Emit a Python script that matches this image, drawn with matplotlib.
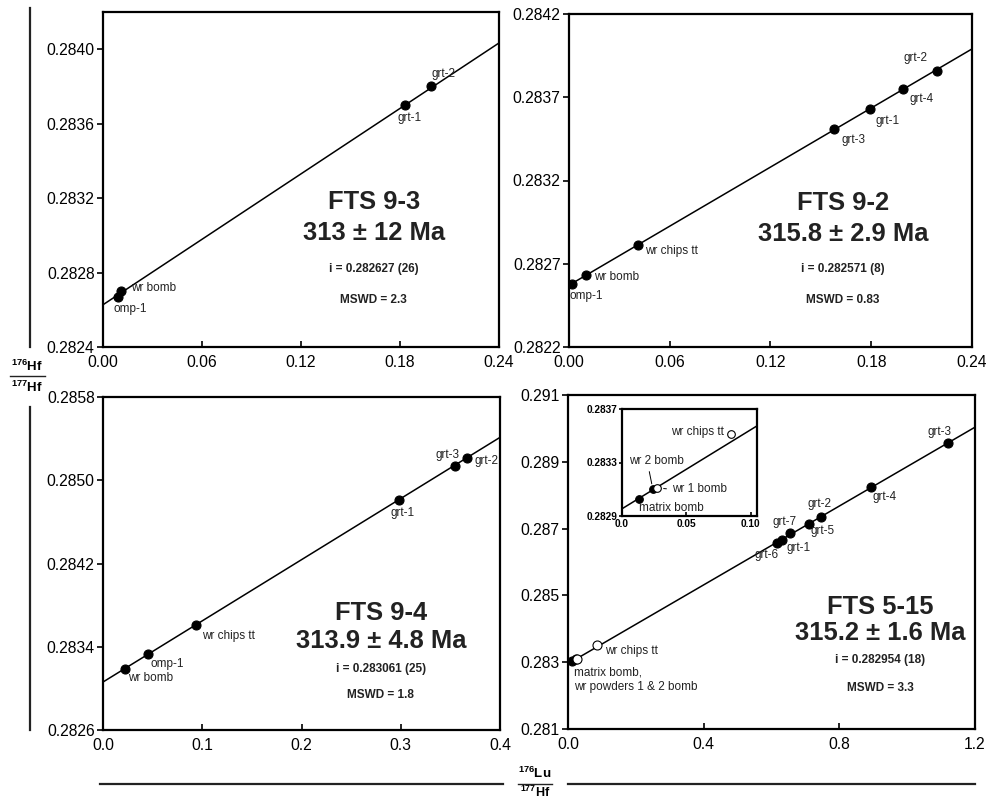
import numpy as np
import matplotlib
matplotlib.use("Agg")
import matplotlib.pyplot as plt
from matplotlib.lines import Line2D

plt.rcParams['font.family'] = ['Liberation Sans', 'DejaVu Sans']
plt.rcParams['mathtext.fontset'] = 'custom'
plt.rcParams['mathtext.rm'] = 'Liberation Sans'
plt.rcParams['mathtext.bf'] = 'Liberation Sans:bold'

LAMBDA = 1.867e-11  # 176Lu decay constant

# ---- data ----
# FTS 9-3
p1_names = ['omp-1', 'wr bomb', 'grt-1', 'grt-2']
p1_x = [0.009, 0.011, 0.183, 0.199]
p1_y = [0.28267, 0.28270, 0.28370, 0.28380]
p1_i, p1_age = 0.282627, 313

# FTS 9-2
p2_names = ['omp-1', 'wr bomb', 'wr chips tt', 'grt-3', 'grt-1', 'grt-4', 'grt-2']
p2_x = [0.002, 0.010, 0.041, 0.158, 0.179, 0.199, 0.219]
p2_y = [0.28258, 0.28263, 0.28281, 0.28351, 0.28363, 0.28375, 0.28386]
p2_i, p2_age = 0.282571, 315.8

# FTS 9-4
p3_names = ['wr bomb', 'omp-1', 'wr chips tt', 'grt-1', 'grt-3', 'grt-2']
p3_x = [0.022, 0.045, 0.094, 0.298, 0.355, 0.367]
p3_y = [0.28319, 0.28333, 0.28361, 0.28481, 0.28514, 0.28521]
p3_i, p3_age = 0.283061, 313.9

# FTS 5-15
p4_names = ['matrix bomb', 'wr 2 bomb', 'wr 1 bomb', 'wr chips tt',
            'grt-6', 'grt-1', 'grt-7', 'grt-5', 'grt-2', 'grt-4', 'grt-3']
p4_x = [0.013, 0.024, 0.027, 0.085, 0.615, 0.63, 0.655, 0.710, 0.746, 0.893, 1.120]
p4_y = [0.28303, 0.28310, 0.28311, 0.28351, 0.28658, 0.28667, 0.28687,
        0.28714, 0.28735, 0.28825, 0.28955]
p4_open = [False, False, True, True, False, False, False, False, False, False, False]
p4_i, p4_age = 0.282954, 315.2

W, H = 987, 801
fig = plt.figure(figsize=(W / 100, H / 100), dpi=100)
TXT = '#222222'
LFS = 8.5


def px_axes(l, r, t, b):
    return fig.add_axes([l / W, 1 - b / H, (r - l) / W, (b - t) / H])


def style(ax, xlim, ylim, xt, yt, xfmt, yfmt, fs=11.3):
    ax.set_xlim(xlim)
    ax.set_ylim(ylim)
    ax.set_xticks(xt)
    ax.set_yticks(yt)
    ax.set_xticklabels([xfmt.format(v) for v in xt], fontsize=fs)
    ax.set_yticklabels([yfmt.format(v) for v in yt], fontsize=fs)
    ax.tick_params(axis='x', direction='in', length=4, width=1.2, pad=6)
    ax.tick_params(axis='y', direction='out', length=4, width=1.2, pad=2)
    for s in ax.spines.values():
        s.set_linewidth(1.6)


def isochron(ax, i, age, xmax):
    xs = np.array([0, xmax])
    ax.plot(xs, i + np.expm1(LAMBDA * age * 1e6) * xs, color='black', lw=1.1, zorder=2)


def points(ax, xs, ys, opens=None, ms=6.5):
    for k, (x, y) in enumerate(zip(xs, ys)):
        op = opens[k] if opens else False
        ax.plot(x, y, 'o', ms=ms, mfc='white' if op else 'black', mec='black',
                mew=0.8, zorder=3)


def lab(ax, x, y, txt, dx, dy, ha='left', va='center', fs=LFS):
    ax.annotate(txt, (x, y), xytext=(dx, dy), textcoords='offset points',
                ha=ha, va=va, fontsize=fs, color=TXT)


def summary(ax, name, age, i, mswd, xc, ys):
    ax.text(xc, ys[0], name, transform=ax.transAxes, ha='center', va='center',
            fontsize=18.4, fontweight='bold', color=TXT)
    ax.text(xc, ys[1], age, transform=ax.transAxes, ha='center', va='center',
            fontsize=18.4, fontweight='bold', color=TXT)
    ax.text(xc, ys[2], i, transform=ax.transAxes, ha='center', va='center',
            fontsize=8.5, fontweight='bold', color=TXT)
    ax.text(xc, ys[3], mswd, transform=ax.transAxes, ha='center', va='center',
            fontsize=8.5, fontweight='bold', color=TXT)


# ---- panel 1 ----
ax1 = px_axes(103, 499, 12, 347)
style(ax1, (0, 0.24), (0.2824, 0.2842), [0, 0.06, 0.12, 0.18, 0.24],
      [0.2824, 0.2828, 0.2832, 0.2836, 0.2840], '{:.2f}', '{:.4f}')
isochron(ax1, p1_i, p1_age, 0.24)
points(ax1, p1_x, p1_y)
off1 = [(-3, -9, 'left'), (7, 2, 'left'), (3, -9, 'center'), (9, 9, 'center')]
for n, x, y, (dx, dy, ha) in zip(p1_names, p1_x, p1_y, off1):
    lab(ax1, x, y, n, dx, dy, ha)
summary(ax1, 'FTS 9-3', '313 ± 12 Ma', 'i = 0.282627 (26)', 'MSWD = 2.3',
        0.684, [0.433, 0.340, 0.233, 0.140])

# ---- panel 2 ----
ax2 = px_axes(569, 972, 14, 347)
style(ax2, (0, 0.24), (0.2822, 0.2842), [0, 0.06, 0.12, 0.18, 0.24],
      [0.2822, 0.2827, 0.2832, 0.2837, 0.2842], '{:.2f}', '{:.4f}')
isochron(ax2, p2_i, p2_age, 0.24)
points(ax2, p2_x, p2_y)
off2 = [(-2, -9, 'left'), (6, -1, 'left'), (5, -4, 'left'), (14, -8, 'center'),
        (13, -9, 'center'), (13, -7, 'center'), (-15, 9, 'center')]
for n, x, y, (dx, dy, ha) in zip(p2_names, p2_x, p2_y, off2):
    lab(ax2, x, y, n, dx, dy, ha)
summary(ax2, 'FTS 9-2', '315.8 ± 2.9 Ma', 'i = 0.282571 (8)', 'MSWD = 0.83',
        0.68, [0.433, 0.340, 0.233, 0.140])

# ---- panel 3 ----
ax3 = px_axes(103, 500, 397, 730)
style(ax3, (0, 0.4), (0.2826, 0.2858), [0, 0.1, 0.2, 0.3, 0.4],
      [0.2826, 0.2834, 0.2842, 0.2850, 0.2858], '{:.1f}', '{:.4f}')
isochron(ax3, p3_i, p3_age, 0.4)
points(ax3, p3_x, p3_y)
off3 = [(2, -7, 'left'), (2, -7, 'left'), (4, -8, 'left'), (3, -9, 'center'),
        (-6, 8, 'center'), (5, -2, 'left')]
for n, x, y, (dx, dy, ha) in zip(p3_names, p3_x, p3_y, off3):
    lab(ax3, x, y, n, dx, dy, ha)
summary(ax3, 'FTS 9-4', '313.9 ± 4.8 Ma', 'i = 0.283061 (25)', 'MSWD = 1.8',
        0.70, [0.350, 0.268, 0.183, 0.105])

# ---- panel 4 ----
ax4 = px_axes(568, 975, 395, 729)
style(ax4, (0, 1.2), (0.281, 0.291), [0, 0.4, 0.8, 1.2],
      [0.281, 0.283, 0.285, 0.287, 0.289, 0.291], '{:.1f}', '{:.3f}')
isochron(ax4, p4_i, p4_age, 1.2)
points(ax4, p4_x, p4_y, p4_open)
lab(ax4, p4_x[0], p4_y[0], 'matrix bomb,\nwr powders 1 & 2 bomb', 1, -4, 'left', 'top')
lab(ax4, p4_x[3], p4_y[3], 'wr chips tt', 6, -4, 'left')
off4 = {'grt-6': (-7, -9, 'center'), 'grt-1': (12, -6, 'center'),
        'grt-7': (-4, 8, 'center'), 'grt-5': (10, -5, 'center'),
        'grt-2': (-1, 9, 'center'), 'grt-4': (10, -7, 'center'),
        'grt-3': (-6, 8, 'center')}
for n, x, y in zip(p4_names[4:], p4_x[4:], p4_y[4:]):
    dx, dy, ha = off4[n]
    lab(ax4, x, y, n, dx, dy, ha)
summary(ax4, 'FTS 5-15', '315.2 ± 1.6 Ma', 'i = 0.282954 (18)', 'MSWD = 3.3',
        0.767, [0.365, 0.287, 0.207, 0.123])

# inset
axi = px_axes(622, 757, 409, 516)
style(axi, (0, 0.105), (0.2829, 0.2837), [0, 0.05, 0.10],
      [0.2829, 0.2833, 0.2837], '{:.2f}', '{:.4f}', fs=7.3)
axi.set_xticklabels(['0.0', '0.05', '0.10'], fontsize=7.3, fontweight='bold')
axi.set_yticklabels(['0.2829', '0.2833', '0.2837'], fontsize=7.3, fontweight='bold')
axi.tick_params(axis='x', length=3, pad=2)
axi.tick_params(axis='y', length=2, pad=1)
isochron(axi, p4_i, p4_age, 0.105)
points(axi, p4_x[:4], p4_y[:4], p4_open[:4], ms=5.5)
lab(axi, p4_x[0], p4_y[0], 'matrix bomb', 0, -7, 'left')
lab(axi, p4_x[3], p4_y[3], 'wr chips tt', -5, 2, 'right')
axi.annotate('wr 2 bomb', (p4_x[1], p4_y[1]), xytext=(-17, 20),
             textcoords='offset points', ha='left', va='center', fontsize=LFS,
             color=TXT, arrowprops=dict(arrowstyle='-', lw=0.7, relpos=(0.35, 0),
                                        shrinkA=1, shrinkB=4))
axi.annotate('wr 1 bomb', (p4_x[2], p4_y[2]), xytext=(11, -1),
             textcoords='offset points', ha='left', va='center', fontsize=LFS,
             color=TXT, arrowprops=dict(arrowstyle='-', lw=0.7, relpos=(0, 0.5),
                                        shrinkA=2, shrinkB=5))

# ---- shared axis labels ----
def fig_line(x0, x1, y0, y1, lw=1.6):
    fig.add_artist(Line2D([x0 / W, x1 / W], [1 - y0 / H, 1 - y1 / H],
                          color=TXT, lw=lw))

fig_line(30, 30, 8, 347)
fig_line(30, 30, 407, 730)
fig_line(100, 503, 784, 784)
fig_line(568, 975, 784, 784)

fig.text(27 / W, 1 - 366 / H, r'$^{\mathbf{176}}\mathbf{Hf}$', ha='center',
         va='center', fontsize=9.5)
fig_line(10, 45, 376, 376, lw=1.0)
fig.text(27 / W, 1 - 387 / H, r'$^{\mathbf{177}}\mathbf{Hf}$', ha='center',
         va='center', fontsize=9.5)

fig.text(535 / W, 1 - 773 / H, r'$^{\mathbf{176}}\mathbf{Lu}$', ha='center',
         va='center', fontsize=9.5)
fig_line(518, 552, 784, 784, lw=1.0)
fig.text(535 / W, 1 - 792 / H, r'$^{\mathbf{177}}\mathbf{Hf}$', ha='center',
         va='center', fontsize=9)

fig.savefig('out.png', dpi=100)
plt.close(fig)
